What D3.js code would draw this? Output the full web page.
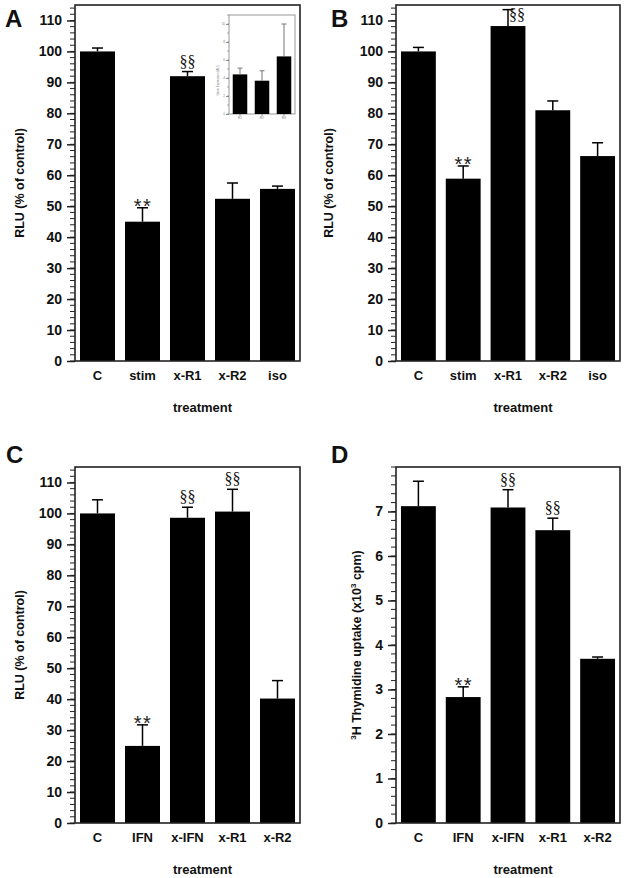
<!DOCTYPE html>
<html><head><meta charset="utf-8">
<script src="https://cdn.jsdelivr.net/npm/d3@7"></script>
<style>body{margin:0;background:#fff}svg{display:block}text{font-family:Arial,"Liberation Sans",sans-serif}</style>
</head><body><div id="chart"></div>
<script>
// ---- data ----
const catsAB = ["C", "stim", "x-R1", "x-R2", "iso"];
const valsA = [100, 45, 92, 52.4, 55.6];
const errA = [1.1, 4.5, 1.5, 5.1, 0.9];
const sigA = ["", "**", "§§", "", ""];
const valsB = [100, 58.9, 108.2, 81, 66.2];
const errB = [1.3, 4.1, 5.3, 3, 4.3];
const sigB = ["", "**", "§§", "", ""];
const catsCD = ["C", "IFN", "x-IFN", "x-R1", "x-R2"];
const valsC = [100, 24.9, 98.6, 100.6, 40.2];
const errC = [4.4, 6.8, 3.4, 7.2, 5.8];
const sigC = ["", "**", "§§", "§§", ""];
const valsD = [7.12, 2.83, 7.09, 6.58, 3.69];
const errD = [0.56, 0.23, 0.4, 0.27, 0.04];
const sigD = ["", "**", "§§", "§§", ""];
const ticksRLU = [0, 10, 20, 30, 40, 50, 60, 70, 80, 90, 100, 110];
const ticksD = [0, 1, 2, 3, 4, 5, 6, 7];
const insetCats = ["R1", "R2", "R3"];
const insetVals = [4.4, 3.7, 6.4];
const insetErr = [0.7, 1.1, 3.6];
const insetTicks = [0, 2, 4, 6, 8, 10];

const svg = d3.select("#chart").append("svg").attr("width", 627).attr("height", 878);

function panel(o) {
  const g = svg.append("g");
  const x = d3.scaleBand().domain(o.cats).range([o.x0, o.x1]).paddingInner(0.222).paddingOuter(0.111);
  const y = d3.scaleLinear().domain([0, o.ymax]).range([o.y1, o.y0]);
  g.selectAll("rect.bar").data(o.vals).enter().append("rect")
    .attr("x", (d, i) => x(o.cats[i])).attr("width", x.bandwidth())
    .attr("y", d => y(d)).attr("height", d => y(0) - y(d)).attr("fill", "#000");
  o.vals.forEach((v, i) => {
    const cx = x(o.cats[i]) + x.bandwidth() / 2, top = y(v + o.err[i]);
    g.append("line").attr("x1", cx).attr("x2", cx).attr("y1", y(v)).attr("y2", top).attr("stroke", "#000").attr("stroke-width", 1.5);
    g.append("line").attr("x1", cx - 5.5).attr("x2", cx + 5.5).attr("y1", top).attr("y2", top).attr("stroke", "#000").attr("stroke-width", 1.5);
    const s = o.sig[i];
    if (s === "**") {
      g.append("text").attr("x", cx + 0.5).attr("y", top + 5).attr("text-anchor", "middle")
        .attr("font-size", 20).attr("fill", "#222").attr("letter-spacing", 1.5).text(s);
    } else if (s === "§§") {
      const side = o.sigSide && o.sigSide[i];
      g.append("text").attr("x", side ? cx + 9 : cx).attr("y", side ? top + 10 : top - 5).attr("text-anchor", "middle")
        .style("font-family", "'Liberation Serif','DejaVu Serif',serif")
        .attr("font-size", 16).attr("fill", "#111").text(s);
    }
  });
  const minor = d3.range(0, o.ymax + 1e-9, o.minorStep);
  g.selectAll("line.minor").data(minor).enter().append("line")
    .attr("x1", o.x0 - 5).attr("x2", o.x0).attr("y1", d => y(d)).attr("y2", d => y(d))
    .attr("stroke", "#222").attr("stroke-width", 1);
  const ax = g.append("g").attr("transform", `translate(${o.x0},0)`)
    .call(d3.axisLeft(y).tickValues(o.ticks).tickSize(8).tickPadding(5).tickFormat(d3.format("d")));
  ax.select(".domain").remove();
  ax.selectAll(".tick line").attr("stroke", "#222").attr("stroke-width", 1.5);
  ax.selectAll(".tick text").attr("font-size", 14).attr("font-weight", "bold").attr("fill", "#111")
    .style("font-family", "Arial,'Liberation Sans',sans-serif");
  const bx = g.append("g").attr("transform", `translate(0,${o.y1})`)
    .call(d3.axisBottom(x).tickSize(0).tickPadding(10));
  bx.select(".domain").remove();
  bx.selectAll(".tick text").attr("font-size", 13).attr("font-weight", "bold").attr("fill", "#111")
    .style("font-family", "Arial,'Liberation Sans',sans-serif");
  g.append("rect").attr("x", o.x0).attr("y", o.y0).attr("width", o.x1 - o.x0).attr("height", o.y1 - o.y0)
    .attr("fill", "none").attr("stroke", "#222").attr("stroke-width", 1.6);
  g.append("text").attr("x", (o.x0 + o.x1) / 2 + 15).attr("y", o.y1 + 51).attr("text-anchor", "middle")
    .attr("font-size", 13).attr("font-weight", "bold").attr("fill", "#111").text("treatment");
  const yt = g.append("g").attr("transform", `translate(${o.ytX},${(o.y0 + o.y1) / 2}) rotate(-90)`)
    .append("text").attr("text-anchor", "middle").attr("font-size", 12.5).attr("font-weight", "bold").attr("fill", "#111");
  if (o.ytitle === "D") {
    yt.append("tspan").attr("font-size", 8).attr("dy", -5).text("3");
    yt.append("tspan").attr("dy", 5).text("H Thymidine uptake (x10");
    yt.append("tspan").attr("font-size", 8).attr("dy", -5).text("3");
    yt.append("tspan").attr("dy", 5).text(" cpm)");
  } else {
    yt.text(o.ytitle);
  }
  svg.append("text").attr("x", o.letterX).attr("y", o.letterY).attr("font-size", 24).attr("font-weight", "bold")
    .attr("fill", "#111").text(o.letter);
}

panel({cats: catsAB, vals: valsA, err: errA, sig: sigA, x0: 75, x1: 300, y0: 5, y1: 361, ymax: 115,
  ticks: ticksRLU, minorStep: 2, ytitle: "RLU (% of control)", ytX: 24, letter: "A", letterX: 5, letterY: 27});
panel({cats: catsAB, vals: valsB, err: errB, sig: sigB, sigSide: [0, 0, 1, 0, 0], x0: 396, x1: 620, y0: 5, y1: 361, ymax: 115,
  ticks: ticksRLU, minorStep: 2, ytitle: "RLU (% of control)", ytX: 333, letter: "B", letterX: 331, letterY: 27});
panel({cats: catsCD, vals: valsC, err: errC, sig: sigC, x0: 75, x1: 300, y0: 467, y1: 823, ymax: 115,
  ticks: ticksRLU, minorStep: 2, ytitle: "RLU (% of control)", ytX: 24, letter: "C", letterX: 6, letterY: 463});
panel({cats: catsCD, vals: valsD, err: errD, sig: sigD, x0: 396, x1: 620, y0: 467, y1: 823, ymax: 8,
  ticks: ticksD, minorStep: 0.2, ytitle: "D", ytX: 361, letter: "D", letterX: 331, letterY: 463});

// ---- inset in panel A ----
(function () {
  const x0 = 229, x1 = 295, y0 = 15, y1 = 114;
  const g = svg.append("g");
  const x = d3.scaleBand().domain(insetCats).range([x0, x1]).paddingInner(0.34).paddingOuter(0.17);
  const y = d3.scaleLinear().domain([0, 11]).range([y1, y0]);
  g.append("rect").attr("x", x0).attr("y", y0).attr("width", x1 - x0).attr("height", y1 - y0)
    .attr("fill", "#fff").attr("stroke", "#999").attr("stroke-width", 1);
  g.selectAll("rect.b").data(insetVals).enter().append("rect")
    .attr("x", (d, i) => x(insetCats[i])).attr("width", x.bandwidth())
    .attr("y", d => y(d)).attr("height", d => y(0) - y(d)).attr("fill", "#000");
  insetVals.forEach((v, i) => {
    const cx = x(insetCats[i]) + x.bandwidth() / 2, top = y(v + insetErr[i]);
    g.append("line").attr("x1", cx).attr("x2", cx).attr("y1", y(v)).attr("y2", top).attr("stroke", "#777").attr("stroke-width", 1);
    g.append("line").attr("x1", cx - 2.5).attr("x2", cx + 2.5).attr("y1", top).attr("y2", top).attr("stroke", "#777").attr("stroke-width", 1);
  });
  g.selectAll("line.m").data(d3.range(0, 11.01, 1)).enter().append("line")
    .attr("x1", x0 - 2).attr("x2", x0).attr("y1", d => y(d)).attr("y2", d => y(d)).attr("stroke", "#777").attr("stroke-width", 0.6);
  const ax = g.append("g").attr("transform", `translate(${x0},0)`)
    .call(d3.axisLeft(y).tickValues(insetTicks).tickSize(3).tickPadding(1));
  ax.select(".domain").remove();
  ax.selectAll(".tick line").attr("stroke", "#777").attr("stroke-width", 0.8);
  ax.selectAll(".tick text").attr("font-size", 3).attr("fill", "#777");
  const bx = g.append("g").attr("transform", `translate(0,${y1})`)
    .call(d3.axisBottom(x).tickSize(2).tickPadding(1));
  bx.select(".domain").remove();
  bx.selectAll(".tick line").attr("stroke", "#777").attr("stroke-width", 0.8);
  bx.selectAll(".tick text").attr("font-size", 3).attr("fill", "#777");
  g.append("g").attr("transform", `translate(219,${(y0 + y1) / 2 + 16}) rotate(-90)`).append("text")
    .attr("text-anchor", "middle").attr("font-size", 3).attr("fill", "#777").text("Gene Expression (AU)");
})();
</script></body></html>
